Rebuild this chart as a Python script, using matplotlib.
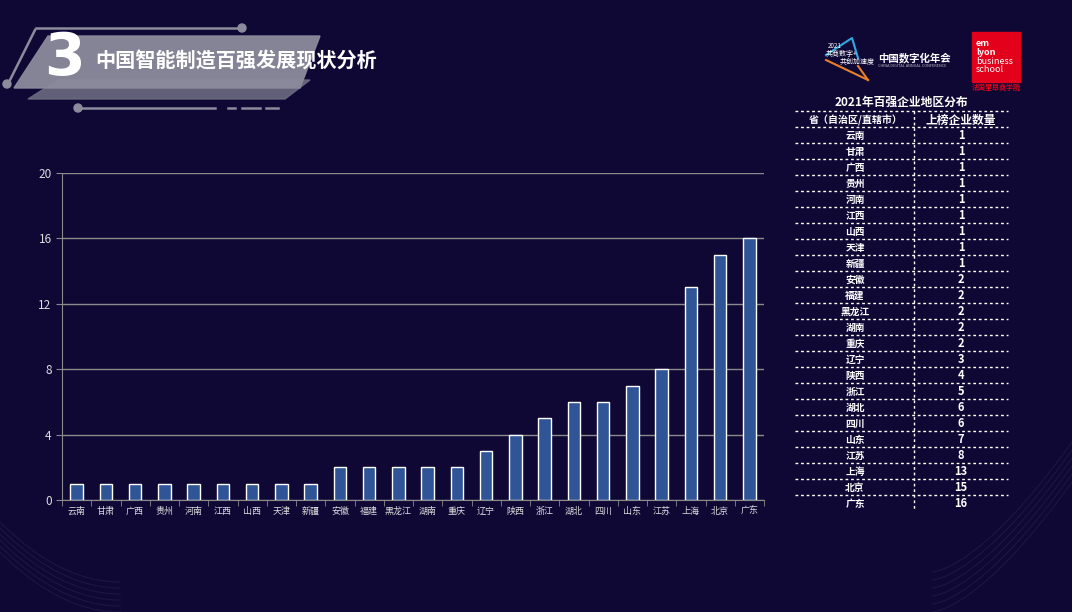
import numpy as np
import matplotlib.pyplot as plt
from matplotlib.patches import Polygon, Rectangle, Circle

plt.rcParams['font.family'] = ['Noto Sans CJK SC', 'DejaVu Sans']

provinces = ['云南', '甘肃', '广西', '贵州', '河南', '江西', '山西', '天津', '新疆', '安徽',
             '福建', '黑龙江', '湖南', '重庆', '辽宁', '陕西', '浙江', '湖北', '四川', '山东',
             '江苏', '上海', '北京', '广东']
counts = [1, 1, 1, 1, 1, 1, 1, 1, 1, 2, 2, 2, 2, 2, 3, 4, 5, 6, 6, 7, 8, 13, 15, 16]
y_ticks = [0, 4, 8, 12, 16, 20]

title = '中国智能制造百强发展现状分析'
table_title = '2021年百强企业地区分布'
col_names = ['省（自治区/直辖市）', '上榜企业数量']

bg = '#0f0835'
W, H = 1072, 612

fig = plt.figure(figsize=(10.72, 6.12), dpi=100, facecolor=bg)

# overlay axes in pixel coordinates for decorations
deco = fig.add_axes([0, 0, 1, 1], zorder=0)
deco.set_xlim(0, W)
deco.set_ylim(H, 0)
deco.axis('off')
deco.set_facecolor(bg)

# faint swooshes
t = np.linspace(0, 1, 100)
for k in range(6):
    deco.plot(0 + 120 * t, 612 - 60 * (1 - t) ** 2 - k * 6, color='#3a2d55', lw=0.8, alpha=0.35)
    deco.plot(1072 - 140 * t, 612 - 130 * (1 - t) ** 1.5 - k * 8, color='#3a2d55', lw=0.8, alpha=0.35)

# header banner
deco.add_patch(Polygon([[28, 99], [58, 80], [310, 80], [285, 99]], closed=True,
                       color='#6b6a80', alpha=0.9, zorder=1))
deco.add_patch(Polygon([[14, 88], [48, 36], [320, 36], [300, 88]], closed=True,
                       color='#8c8b9c', alpha=0.95, zorder=2))
deco.plot([36, 242], [28, 28], color='#8c8b9c', lw=1.8, zorder=3)
deco.add_patch(Circle((242, 28), 4, color='#8c8b9c', zorder=3))
deco.plot([8, 35], [84, 30], color='#8c8b9c', lw=1.8, zorder=3)
deco.add_patch(Circle((7, 84), 4, color='#8c8b9c', zorder=3))
deco.plot([78, 215], [108, 108], color='#8c8b9c', lw=1.8, zorder=3)
deco.plot([228, 235], [108, 108], color='#8c8b9c', lw=1.8, zorder=3)
deco.plot([242, 260], [108, 108], color='#8c8b9c', lw=1.8, zorder=3)
deco.plot([266, 278], [108, 108], color='#8c8b9c', lw=1.8, zorder=3)
deco.add_patch(Circle((78, 108), 4, color='#8c8b9c', zorder=3))
deco.text(64, 58, '3', color='white', fontsize=42, fontweight='bold', ha='center', va='center',
          family='DejaVu Sans', zorder=4)
deco.text(95, 61, title, color='white', fontsize=14.5, fontweight='bold', va='center', zorder=4)

# conference logo
deco.plot([826, 852, 858], [55, 38, 58], color='#2fa8e0', lw=1.5)
deco.plot([826, 868], [60, 80], color='#e8802a', lw=1.5)
deco.plot([858, 868], [66, 80], color='#e8802a', lw=1.5)
deco.text(828, 48, '2021', color='white', fontsize=4.5)
deco.text(826, 56, '共商数字+', color='white', fontsize=5)
deco.text(840, 64, '共创加速度', color='white', fontsize=5)
deco.text(878, 58, '中国数字化年会', color='white', fontsize=7.5, fontweight='bold', va='center')
deco.text(878, 66, 'CHINA DIGITAL ANNUAL CONFERENCE', color='#bbbbbb', fontsize=2.8, va='center')

# emlyon logo
deco.add_patch(Rectangle((972, 32), 48, 50, color='#e2001a'))
for i, s in enumerate(['em', 'lyon', 'business', 'school']):
    deco.text(976, 44 + i * 8.5, s, color='white', fontsize=6.5,
              fontweight='bold' if i < 2 else 'normal', va='center')
deco.text(996, 87, '法国里昂商学院', color='#e2001a', fontsize=5, ha='center', va='center',
          fontweight='bold')

# bar chart
ax = fig.add_axes([62 / W, 1 - 500 / H, (764 - 62) / W, (500 - 173) / H], zorder=2)
ax.set_facecolor('none')
x = np.arange(len(provinces))
ax.bar(x, counts, width=0.42, color='#2f5597', edgecolor='white', linewidth=1, zorder=3)
ax.set_xlim(-0.5, len(provinces) - 0.5)
ax.set_ylim(0, 20)
ax.set_yticks(y_ticks)
ax.yaxis.grid(True, color='#8a8a8a', lw=1)
ax.set_axisbelow(True)
ax.set_xticks(x)
ax.set_xticklabels(provinces, fontsize=6.5, color='#dddddd')
ax.tick_params(axis='x', length=0, pad=5)
ax.set_xticks(np.arange(-0.5, len(provinces), 1), minor=True)
ax.tick_params(axis='x', which='minor', length=4, color='#8a8a8a', direction='out')
ax.tick_params(axis='y', length=4, color='#8a8a8a', labelcolor='#dddddd', labelsize=8.5)
for s in ['top', 'right']:
    ax.spines[s].set_visible(False)
for s in ['left', 'bottom']:
    ax.spines[s].set_color('#8a8a8a')

# table
tx0, tx1, tdiv = 795, 1008, 914
deco.text((tx0 + tx1) / 2, 102, table_title, color='white', fontsize=8.5, fontweight='bold',
          ha='center', va='center')
row_h = 16
y0 = 111
deco.plot([tx0, tx1], [y0, y0], color='white', lw=1, ls=(0, (2, 2)))
deco.text(856, 120, col_names[0], color='white', fontsize=7.2, fontweight='bold', ha='center', va='center')
deco.text(961, 120, col_names[1], color='white', fontsize=8.5, fontweight='bold', ha='center', va='center')
yb = y0 + row_h
deco.plot([tx0, tx1], [yb, yb], color='white', lw=1, ls=(0, (2, 2)))
for i, (p, c) in enumerate(zip(provinces, counts)):
    yc = yb + row_h * i + row_h / 2 + 0.5
    deco.text(855, yc, p, color='white', fontsize=7, fontweight='bold', ha='center', va='center')
    deco.text(961, yc, str(c), color='white', fontsize=8, fontweight='bold', ha='center', va='center')
    if i < len(provinces) - 1:
        yl = yb + row_h * (i + 1)
        deco.plot([tx0, tx1], [yl, yl], color='white', lw=1, ls=(0, (2, 2)))
deco.plot([tdiv, tdiv], [y0, yb + row_h * len(provinces)], color='white', lw=1, ls=(0, (2, 2)))

fig.savefig('out.png', dpi=100, facecolor=bg)
